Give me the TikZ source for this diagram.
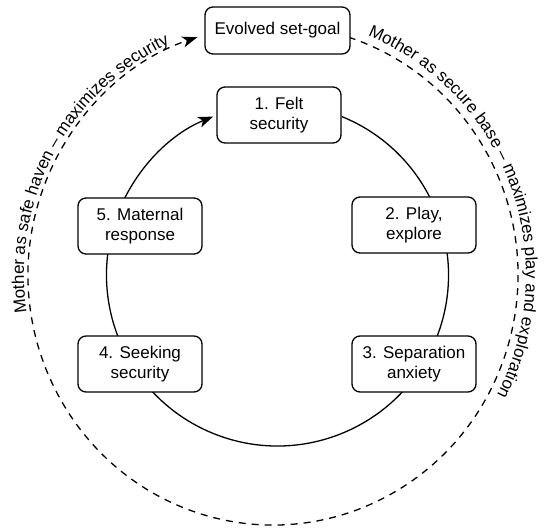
\documentclass[tikz,border=0pt]{standalone}
\usepackage{fontspec}
\setmainfont{Liberation Sans}
\usetikzlibrary{arrows.meta,decorations.text}
\tikzset{
  stage/.style={draw, line width=1.3pt, rounded corners=8pt, fill=white,
    minimum width=124pt, minimum height=56pt, align=center,
    font=\fontsize{17}{20}\selectfont},
  cycleline/.style={line width=1.3pt, -{Stealth[length=15pt,width=11pt,inset=4pt]}},
  goalline/.style={cycleline, dash pattern=on 7pt off 6pt},
}
\begin{document}
\begin{tikzpicture}[x=1pt,y=1pt]
\useasboundingbox (0,0) rectangle (544,528);
\coordinate (inner) at (277.5,253);
\coordinate (outer) at (273,253);
\draw [goalline] ([shift={(72:245 and 250)}]outer) arc [start angle=72, end angle=-252, x radius=245, y radius=250];
\draw [cycleline] ([shift={(67.9:171)}]inner) arc [start angle=67.9, end angle=-247.9, radius=171];
\path [decorate, decoration={text along path, text align=left,
    text={|\fontsize{17}{20}\selectfont|Mother as safe haven – maximizes security}}]
  ([shift={(188.5:249 and 254)}]outer) arc [start angle=188.5, end angle=100, x radius=249, y radius=254];
\path [decorate, decoration={text along path, text align=left,
    text={|\fontsize{17}{20}\selectfont|Mother as secure base – maximizes play and exploration}}]
  ([shift={(68:253 and 258)}]outer) arc [start angle=68, end angle=-40, x radius=253, y radius=258];
\node [stage, minimum width=145pt, minimum height=47pt] (goal) at (277.5,497.5) {Evolved set-goal};
\node [stage] (felt) at (279,413) {1. Felt\\security};
\node [stage] (play) at (414,303) {2. Play,\\explore};
\node [stage] (anxiety) at (414,164) {3. Separation\\anxiety};
\node [stage] (seeking) at (140,164) {4. Seeking\\security};
\node [stage] (response) at (140,302) {5. Maternal\\response};
\end{tikzpicture}
\end{document}
